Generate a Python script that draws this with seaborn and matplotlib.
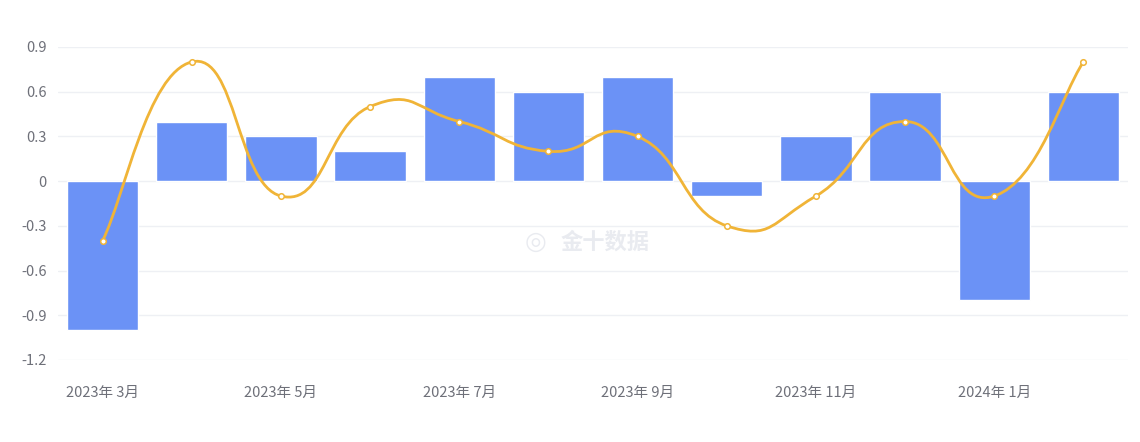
import numpy as np
import pandas as pd
import matplotlib
matplotlib.use("Agg")
import matplotlib.pyplot as plt
from matplotlib.path import Path
from matplotlib.patches import PathPatch
import seaborn as sns

months = ["2023-03", "2023-04", "2023-05", "2023-06", "2023-07", "2023-08",
          "2023-09", "2023-10", "2023-11", "2023-12", "2024-01", "2024-02"]
tick_labels = ["2023年 3月", "", "2023年 5月", "", "2023年 7月", "",
               "2023年 9月", "", "2023年 11月", "", "2024年 1月", ""]
bar_values = [-1.0, 0.4, 0.3, 0.2, 0.7, 0.6, 0.7, -0.1, 0.3, 0.6, -0.8, 0.6]
line_values = [-0.4, 0.8, -0.1, 0.5, 0.4, 0.2, 0.3, -0.3, -0.1, 0.4, -0.1, 0.8]
y_ticks = [-1.2, -0.9, -0.6, -0.3, 0, 0.3, 0.6, 0.9]

sns.set_theme(style="white")
plt.rcParams['font.family'] = ['Noto Sans CJK SC', 'DejaVu Sans']

df = pd.DataFrame({"month": months, "bar": bar_values, "line": line_values})

fig = plt.figure(figsize=(11.4, 4.42), dpi=100)
ax = fig.add_axes([58/1140, 82/442, 1070/1140, 313/442])

BAR = "#6b92f6"
LINE = "#f0b437"
GRID = "#eef0f4"
TXT = "#6e7079"

for y in y_ticks:
    ax.axhline(y, color=GRID, lw=1, zorder=0)

sns.barplot(data=df, x="month", y="bar", color=BAR, saturation=1, width=0.8,
            ax=ax, zorder=2)

# smooth curve through the data points (cubic Bezier rendering)
xs = np.arange(len(line_values), dtype=float)
ys = np.array(line_values, dtype=float)
n = len(xs)
verts = [(xs[0], ys[0])]
codes = [Path.MOVETO]
s = 0.5
for i in range(n - 1):
    p0 = np.array([xs[max(i - 1, 0)], ys[max(i - 1, 0)]])
    p1 = np.array([xs[i], ys[i]])
    p2 = np.array([xs[i + 1], ys[i + 1]])
    p3 = np.array([xs[min(i + 2, n - 1)], ys[min(i + 2, n - 1)]])
    c1 = p1 + (p2 - p0) * s / 2
    c2 = p2 - (p3 - p1) * s / 2
    verts += [tuple(c1), tuple(c2), tuple(p2)]
    codes += [Path.CURVE4] * 3
ax.add_patch(PathPatch(Path(verts, codes), facecolor="none", edgecolor=LINE,
                       lw=2, zorder=3, capstyle="round", joinstyle="round"))

sns.scatterplot(data=df, x="month", y="line", ax=ax, s=16, color="white",
                edgecolor=LINE, linewidth=1.1, zorder=4, legend=False)

ax.set_ylim(-1.2, 0.9)
ax.set_xlim(-0.5, n - 0.5)
ax.set_yticks(y_ticks)
ax.set_yticklabels(["0" if v == 0 else f"{v:.1f}" for v in y_ticks])
ax.set_xticks(range(n))
ax.set_xticklabels(tick_labels)
ax.tick_params(axis="both", length=0, labelsize=10.5, colors=TXT)
ax.tick_params(axis="x", pad=19)
ax.tick_params(axis="y", pad=8)
ax.set_xlabel("")
ax.set_ylabel("")
for sp in ax.spines.values():
    sp.set_visible(False)
ax.set_facecolor("white")

fig.text(605/1140, 1 - 242/442, "金十数据", ha="center", va="center",
         fontsize=16, fontweight="bold", color="#e9ebf0", zorder=1)
fig.text(536/1140, 1 - 242/442, "◎", ha="center", va="center",
         fontsize=18, color="#e9ebf0", family=["DejaVu Sans"], zorder=1)

fig.savefig("out.png", dpi=100, facecolor="white")
